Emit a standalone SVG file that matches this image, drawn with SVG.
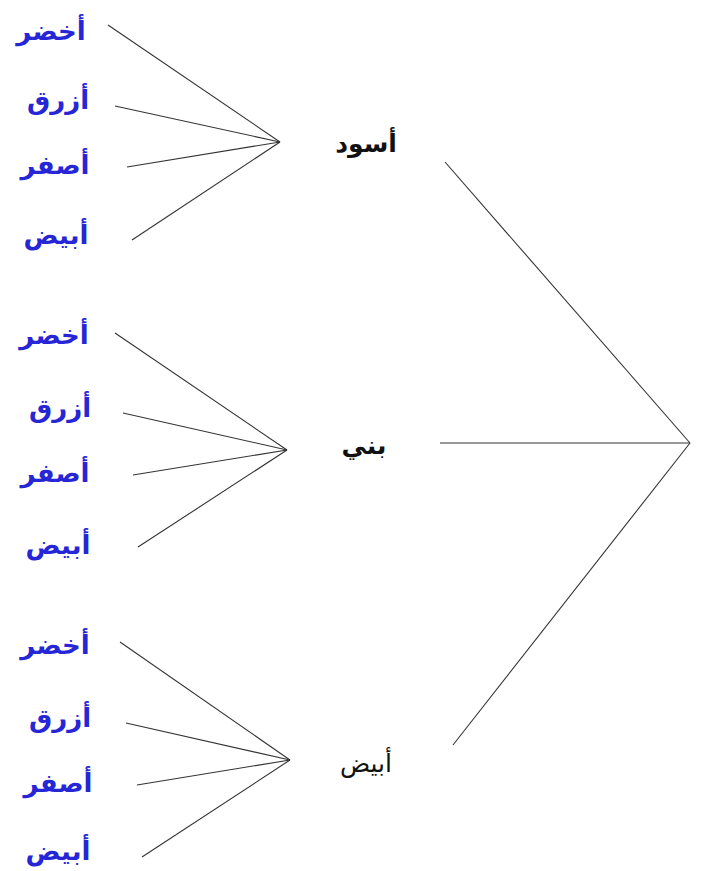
<svg xmlns="http://www.w3.org/2000/svg" width="704" height="871" viewBox="0 0 704 871">
<style>
.b{font-family:"DejaVu Sans",sans-serif;font-weight:bold;font-size:26px;fill:#2626d6;text-anchor:middle}
.k{font-family:"DejaVu Sans",sans-serif;font-size:25px;fill:#111;text-anchor:middle}
.kb{font-weight:bold}
.c line{stroke:#333;stroke-width:1.1}
</style>
<rect width="704" height="871" fill="#fff"/>
<g class="c" id="connectors">
<line x1="108" y1="25" x2="280" y2="142"/>
<line x1="115" y1="106" x2="280" y2="142"/>
<line x1="127" y1="167" x2="280" y2="142"/>
<line x1="132" y1="240" x2="280" y2="142"/>
<line x1="115" y1="333" x2="287" y2="450"/>
<line x1="123" y1="413" x2="287" y2="450"/>
<line x1="133" y1="475" x2="287" y2="450"/>
<line x1="138" y1="547" x2="287" y2="450"/>
<line x1="120" y1="642" x2="290" y2="760"/>
<line x1="126" y1="723" x2="290" y2="760"/>
<line x1="137" y1="785" x2="290" y2="760"/>
<line x1="142" y1="857" x2="290" y2="760"/>
<line x1="445" y1="162" x2="690" y2="443"/>
<line x1="440" y1="443" x2="690" y2="443"/>
<line x1="690" y1="443" x2="453" y2="745"/>
</g>
<g id="n-black"><text class="k kb" x="366" y="152">أسود</text></g>
<g id="n-brown"><text class="k kb" x="364" y="454">بني</text></g>
<g id="n-white"><text class="k" x="366" y="772">أبيض</text></g>
<g id="g1">
<text class="b" x="51" y="40">أخضر</text>
<text class="b" x="58" y="109">أزرق</text>
<text class="b" x="55" y="174">أصفر</text>
<text class="b" x="56" y="244">أبيض</text>
</g>
<g id="g2">
<text class="b" x="54" y="344">أخضر</text>
<text class="b" x="60" y="417">أزرق</text>
<text class="b" x="55" y="482">أصفر</text>
<text class="b" x="58" y="554">أبيض</text>
</g>
<g id="g3">
<text class="b" x="55" y="654">أخضر</text>
<text class="b" x="60" y="727">أزرق</text>
<text class="b" x="58" y="792">أصفر</text>
<text class="b" x="58" y="860">أبيض</text>
</g>
</svg>
